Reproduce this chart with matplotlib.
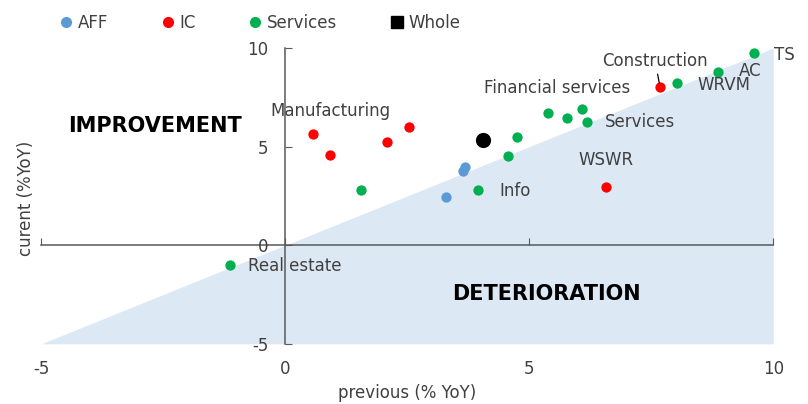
import matplotlib
matplotlib.use("Agg")
import matplotlib.pyplot as plt
from matplotlib.lines import Line2D

plt.rcParams['font.family'] = ['DejaVu Sans']
plt.rcParams['axes.unicode_minus'] = False

# ---- data ----
aff_prev = [3.30, 3.65, 3.69]
aff_curr = [2.44, 3.75, 3.96]

ic_prev = [0.57, 0.92, 2.09, 2.54, 7.68, 6.58]
ic_curr = [5.63, 4.57, 5.23, 5.99, 8.02, 2.94]

svc_prev = [-1.13, 1.56, 3.95, 4.57, 4.75, 5.39, 5.78, 6.09, 6.19, 8.03, 8.87, 9.61]
svc_curr = [-1.02, 2.79, 2.79, 4.52, 5.48, 6.70, 6.45, 6.90, 6.24, 8.22, 8.78, 9.75]

whole_prev = [4.06]
whole_curr = [5.33]

label_texts = ["Manufacturing", "Financial services", "WRVM", "AC", "TS",
               "Services", "WSWR", "Info", "Real estate"]
label_x = [0.92, 5.57, 8.98, 9.53, 10.23, 7.27, 6.58, 4.71, 0.20]
label_y = [6.80, 7.97, 8.12, 8.85, 9.64, 6.24, 4.31, 2.74, -1.07]

constr_text = "Construction"
constr_text_xy = (7.58, 9.34)
constr_point = (7.68, 8.02)

ticks = [-5, 0, 5, 10]
legend_names = ["AFF", "IC", "Services", "Whole"]

C_AFF = "#5b9bd5"
C_IC = "#ff0000"
C_SVC = "#00b050"
C_FILL = "#dde8f5"
C_TXT = "#404040"
C_AX = "#595959"

fig = plt.figure(figsize=(8.08, 4.04), dpi=100)
ax = fig.add_axes([0.051, 0.149, 0.906, 0.732])
ax.set_xlim(ticks[0], ticks[-1])
ax.set_ylim(ticks[0], ticks[-1])

# shaded deterioration region (below the 45-degree line)
ax.fill_between([ticks[0], ticks[-1]], [ticks[0], ticks[-1]], ticks[0],
                color=C_FILL, linewidth=0, zorder=0)

for sp in ["top", "right", "bottom"]:
    ax.spines[sp].set_visible(False)
ax.spines["left"].set_position(("data", 0))
ax.spines["left"].set_color(C_AX)
ax.spines["left"].set_linewidth(1.1)

ax.set_yticks(ticks)
ax.set_xticks(ticks)
ax.tick_params(axis="y", direction="in", length=5, color=C_AX, labelsize=12,
               labelcolor=C_TXT, pad=12)
ax.tick_params(axis="x", length=0, labelsize=12, labelcolor=C_TXT, pad=12)

# horizontal axis line crossing at y = 0 with inward tick marks
secx = ax.secondary_xaxis(0, transform=ax.transData)
secx.set_xticks(ticks)
secx.tick_params(axis="x", direction="in", length=5, color=C_AX,
                 labelbottom=False)
secx.spines["bottom"].set_color(C_AX)
secx.spines["bottom"].set_linewidth(1.1)

ms = 55
ax.scatter(aff_prev, aff_curr, s=ms, color=C_AFF, zorder=3, linewidths=0)
ax.scatter(ic_prev, ic_curr, s=ms, color=C_IC, zorder=3, linewidths=0)
ax.scatter(svc_prev, svc_curr, s=ms, color=C_SVC, zorder=3, linewidths=0)
ax.scatter(whole_prev, whole_curr, s=120, color="black", zorder=4, linewidths=0)

for t, x, y in zip(label_texts, label_x, label_y):
    ax.text(x, y, t, ha="center", va="center", fontsize=12, color=C_TXT, zorder=5)

ax.annotate(constr_text, xy=constr_point, xytext=constr_text_xy,
            ha="center", va="center", fontsize=12, color=C_TXT,
            arrowprops=dict(arrowstyle="-", color="black", lw=0.9,
                            shrinkA=1, shrinkB=3), zorder=5)

ax.text(-2.66, 6.04, "IMPROVEMENT", ha="center", va="center",
        fontsize=15, fontweight="bold", color="black")
ax.text(5.35, -2.49, "DETERIORATION", ha="center", va="center",
        fontsize=15, fontweight="bold", color="black")

ax.set_xlabel("previous (% YoY)", fontsize=12, color=C_TXT, labelpad=4)
ax.set_ylabel("curent (%YoY)", fontsize=12, color=C_TXT)
ax.yaxis.set_label_coords(-0.008, 0.493)

handles = [
    Line2D([], [], marker="o", ls="none", color=C_AFF, markersize=7),
    Line2D([], [], marker="o", ls="none", color=C_IC, markersize=7),
    Line2D([], [], marker="o", ls="none", color=C_SVC, markersize=7),
    Line2D([], [], marker="s", ls="none", color="black", markersize=8),
]
fig.legend(handles, legend_names, loc="upper left",
           bbox_to_anchor=(0.0755, 0.965), ncol=4, frameon=False,
           fontsize=12, handlelength=0.6, handletextpad=0.42,
           columnspacing=3.25, borderpad=0, borderaxespad=0,
           labelcolor=C_TXT)

fig.savefig("out.png", dpi=100)
